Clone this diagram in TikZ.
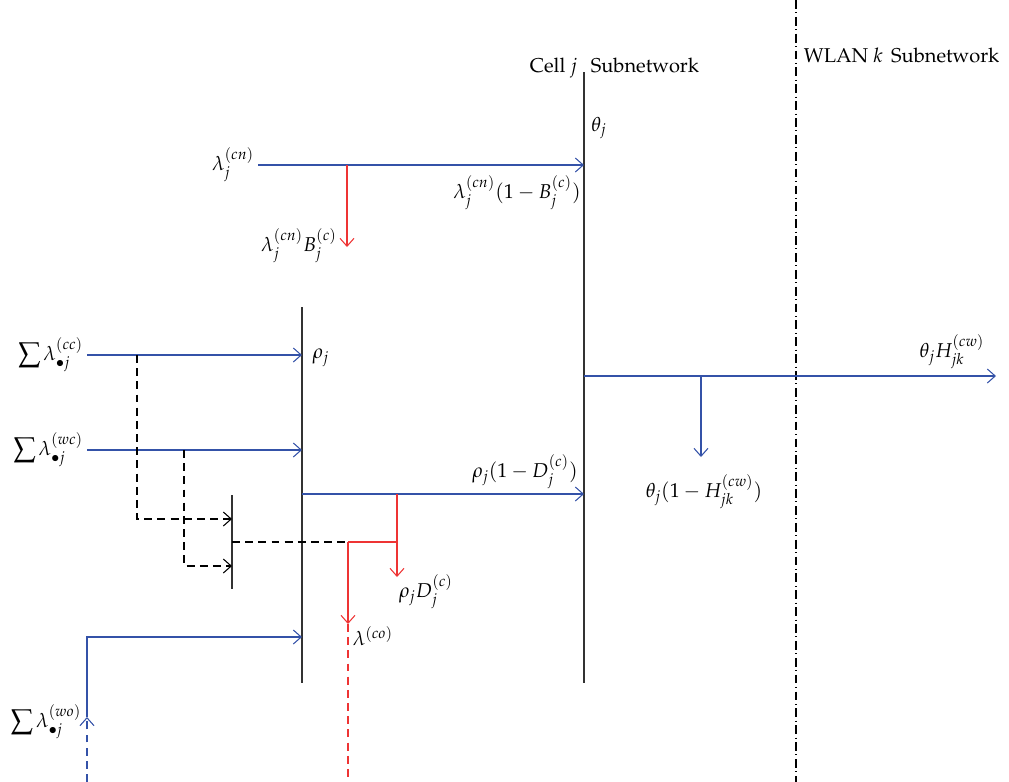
\documentclass[tikz,border=0pt]{standalone}
\usepackage[T1]{fontenc}
\usepackage{mathpazo}
\usepackage{amsmath,amssymb}
\usepackage{xcolor}
\usepackage{tikz}
\usetikzlibrary{arrows.meta}

\definecolor{flowblue}{RGB}{52,82,168}
\definecolor{lossred}{RGB}{238,52,52}
\definecolor{barline}{RGB}{50,50,50}

\begin{document}
\begin{tikzpicture}[x=0.02cm, y=-0.02cm,
  every node/.style={inner sep=2pt, font=\fontsize{11.4}{13.5}\selectfont},
  flow/.style={->, flowblue, line width=0.6pt},
  loss/.style={->, lossred, line width=0.6pt},
  ctrl/.style={dash pattern=on 4.5pt off 3pt, line width=0.6pt},
  bar/.style={barline, line width=0.8pt},
  ]
\tikzset{>={Straight Barb[length=4.5pt, width=8pt]}}
\useasboundingbox (0,0) rectangle (1009,782);

  % subnetwork borders
  \coordinate (cT) at (584,72);
  \coordinate (cB) at (584,683);
  \coordinate (wT) at (796,0);
  \coordinate (wB) at (796,782);
  \coordinate (rT) at (302,307);
  \coordinate (rB) at (302,683);
  \coordinate (sT) at (232,495);
  \coordinate (sB) at (232,589);

  \draw[bar] (cT) -- (cB);
  \draw[bar] (rT) -- (rB);
  \draw[bar] (sT) -- (sB);
  \draw[line width=0.6pt, dash pattern=on 5pt off 2pt on 0.6pt off 2pt] (wT) -- (wB);

  \node[anchor=base east] (cell) at (581,72) {Cell $j$};
  \node[anchor=base west] (cellsub) at (587,72) {Subnetwork};
  \node[anchor=base west] (wlan) at (800,62) {WLAN $k$\, Subnetwork};
  \node (theta) at (599,128) {$\theta_j$};
  \node (rho) at (321,358) {$\rho_j$};

  % new cell calls
  \node[anchor=east] (lcn) at (258,165) {$\lambda_j^{(cn)}$};
  \coordinate (cnE) at (584,165);
  \coordinate (cnB) at (347,165);
  \coordinate (cnBe) at (347,247);
  \draw[flow] (lcn.east) -- (cnE);
  \draw[loss] (cnB) -- (cnBe);
  \node (lcnB) at (299,246) {$\lambda_j^{(cn)}B_j^{(c)}$};
  \node (lcnA) at (517,193) {$\lambda_j^{(cn)}(1-B_j^{(c)})$};

  % handoff inputs
  \node[anchor=east] (scc) at (87,355) {$\displaystyle\sum\lambda_{\bullet j}^{(cc)}$};
  \node[anchor=east] (swc) at (87,450) {$\displaystyle\sum\lambda_{\bullet j}^{(wc)}$};
  \node (swo) at (46,722) {$\displaystyle\sum\lambda_{\bullet j}^{(wo)}$};
  \coordinate (ccE) at (302,355);
  \coordinate (wcE) at (302,450);
  \draw[flow] (scc.east) -- (ccE);
  \draw[flow] (swc.east) -- (wcE);

  \coordinate (woS) at (87,782);
  \coordinate (woA) at (87,717);
  \coordinate (woE) at (302,637);
  \draw[flowblue, ->, line width=0.6pt, dash pattern=on 4.5pt off 3pt] (woS) -- (woA);
  \draw[flow] (woA) |- (woE);

  % dropped handoffs
  \coordinate (dcc) at (137,355);
  \coordinate (dwc) at (184,450);
  \coordinate (sA) at (232,519);
  \coordinate (sC) at (232,566);
  \coordinate (sM) at (232,542);
  \coordinate (jn) at (348,542);
  \coordinate (jD) at (397,542);
  \draw[ctrl, ->] (dcc) |- (sA);
  \draw[ctrl, ->] (dwc) |- (sC);
  \draw[ctrl] (sM) -- (jn);

  % cell outflow
  \coordinate (rO) at (302,494);
  \coordinate (cO) at (584,494);
  \coordinate (rD) at (397,494);
  \coordinate (rDe) at (397,577);
  \coordinate (coE) at (348,624);
  \coordinate (coS) at (348,782);
  \draw[flow] (rO) -- (cO);
  \draw[loss] (rD) -- (rDe);
  \draw[lossred, line width=0.6pt] (jn) -- (jD);
  \draw[loss] (jn) -- (coE);
  \draw[lossred, line width=0.6pt, dash pattern=on 4.5pt off 3pt] (coE) -- (coS);
  \node (lrA) at (525,472) {$\rho_j(1-D_j^{(c)})$};
  \node (lrD) at (426,592) {$\rho_j D_j^{(c)}$};
  \node (lco) at (373,636) {$\lambda^{(co)}$};

  % vertical handoff to WLAN
  \coordinate (tO) at (584,376);
  \coordinate (tE) at (996,376);
  \coordinate (tD) at (701,376);
  \coordinate (tDe) at (701,457);
  \draw[flow] (tO) -- (tE);
  \draw[flow] (tD) -- (tDe);
  \node (lth) at (952,352) {$\theta_j H_{jk}^{(cw)}$};
  \node (ltA) at (704,492) {$\theta_j(1-H_{jk}^{(cw)})$};

\end{tikzpicture}
\end{document}
